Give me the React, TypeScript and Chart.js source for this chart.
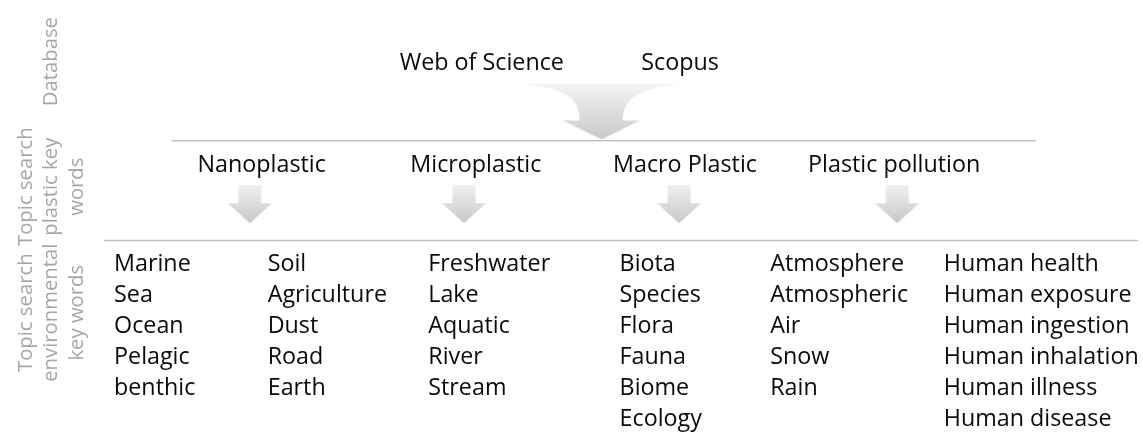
import React, { useEffect, useRef } from "react";
import { Chart, registerables } from "chart.js";

Chart.register(...registerables);

// ---------- content ----------
const databases = ["Web of Science", "Scopus"];
const plasticKeywords = ["Nanoplastic", "Microplastic", "Macro Plastic", "Plastic pollution"];
const envMarine = ["Marine", "Sea", "Ocean", "Pelagic", "benthic"];
const envSoil = ["Soil", "Agriculture", "Dust", "Road", "Earth"];
const envFreshwater = ["Freshwater", "Lake", "Aquatic", "River", "Stream"];
const envBiota = ["Biota", "Species", "Flora", "Fauna", "Biome", "Ecology"];
const envAtmosphere = ["Atmosphere", "Atmospheric", "Air", "Snow", "Rain"];
const envHuman = ["Human health", "Human exposure", "Human ingestion", "Human inhalation", "Human illness", "Human disease"];
const stageDatabase = ["Database"];
const stagePlastic = ["Topic search", "plastic key", "words"];
const stageEnv = ["Topic search", "environmental", "key words"];

// ---------- layout (scale units = pixels) ----------
const W = 1143;
const H = 432;
const dbX = [481, 681];
const dbY = 67;
const plasticX = [259, 475, 686, 897];
const plasticY = 171;
const smallArrowY = 204;
const smallArrowX = [247, 463, 680, 900];
const bigArrowPos = { x: 603, y: 110 };
const envColumns = [envMarine, envSoil, envFreshwater, envBiota, envAtmosphere, envHuman];
const envColX = [110, 265, 427, 620, 772, 947];
const envY0 = 272.5;
const envStep = 31.7;
const stageGroups = [stageDatabase, stagePlastic, stageEnv];
const stageCenterY = [58, 186, 315];
const stageColX1 = [47];
const stageColX3 = [21, 47, 73];
const dividerTop = [{ x: 168, y: 139 }, { x: 1040, y: 139 }];
const dividerBottom = [{ x: 100, y: 241 }, { x: 1143, y: 241 }];

const FONT = "'Open Sans', Carlito, Lato, sans-serif";
const BLACK = "#0a0a0a";
const GRAY = "#a6a6a6";

function makeSmallArrow(): HTMLCanvasElement {
  const c = document.createElement("canvas");
  c.width = 44;
  c.height = 38;
  const ctx = c.getContext("2d")!;
  const g = ctx.createLinearGradient(0, 0, 0, 38);
  g.addColorStop(0, "#f0f0f0");
  g.addColorStop(1, "#c8c8c8");
  ctx.fillStyle = g;
  ctx.beginPath();
  ctx.moveTo(10.5, 0);
  ctx.lineTo(33.5, 0);
  ctx.lineTo(33.5, 18);
  ctx.lineTo(44, 18);
  ctx.lineTo(22, 38);
  ctx.lineTo(0, 18);
  ctx.lineTo(10.5, 18);
  ctx.closePath();
  ctx.fill();
  return c;
}

function makeBigArrow(): HTMLCanvasElement {
  const c = document.createElement("canvas");
  c.width = 162;
  c.height = 56;
  const ctx = c.getContext("2d")!;
  const g = ctx.createLinearGradient(0, 0, 0, 56);
  g.addColorStop(0, "#f4f4f4");
  g.addColorStop(1, "#c8c8c8");
  ctx.fillStyle = g;
  ctx.beginPath();
  ctx.moveTo(2, 0);
  ctx.lineTo(160, 0);
  ctx.bezierCurveTo(110, 4, 101, 18, 101, 36);
  ctx.lineTo(118, 36);
  ctx.lineTo(80, 55);
  ctx.lineTo(41, 36);
  ctx.lineTo(58, 36);
  ctx.bezierCurveTo(58, 18, 50, 4, 2, 0);
  ctx.closePath();
  ctx.fill();
  return c;
}

const textPlugin = {
  id: "textLabels",
  afterDatasetsDraw(chart: any) {
    const ctx = chart.ctx;
    chart.data.datasets.forEach((ds: any, i: number) => {
      if (!ds.textStyle) return;
      const meta = chart.getDatasetMeta(i);
      const st = ds.textStyle;
      meta.data.forEach((el: any, j: number) => {
        const t = ds.data[j].t;
        ctx.save();
        ctx.font = st.font;
        ctx.fillStyle = st.color;
        ctx.textAlign = st.align;
        ctx.textBaseline = st.baseline;
        ctx.translate(el.x, el.y);
        if (st.rotate) ctx.rotate(st.rotate);
        ctx.fillText(t, 0, 0);
        ctx.restore();
      });
    });
  },
};

export default function App() {
  const ref = useRef<HTMLCanvasElement | null>(null);

  useEffect(() => {
    if (!ref.current) return;
    const smallArrow = makeSmallArrow();
    const bigArrow = makeBigArrow();

    const envPoints = envColumns.flatMap((col, ci) =>
      col.map((w, ri) => ({ x: envColX[ci], y: envY0 + ri * envStep, t: w }))
    );
    const stagePoints = stageGroups.flatMap((grp, gi) => {
      const xs = grp.length === 1 ? stageColX1 : stageColX3;
      return grp.map((w, li) => ({ x: xs[li], y: stageCenterY[gi], t: w }));
    });

    const hiddenPt = { pointRadius: 0, pointHoverRadius: 0, showLine: false };

    const chart = new Chart(ref.current, {
      type: "scatter",
      data: {
        datasets: [
          {
            data: dividerTop,
            showLine: true,
            borderColor: "#c4c4c4",
            borderWidth: 1.5,
            pointRadius: 0,
          } as any,
          {
            data: dividerBottom,
            showLine: true,
            borderColor: "#c4c4c4",
            borderWidth: 1.5,
            pointRadius: 0,
          } as any,
          {
            data: [bigArrowPos],
            pointStyle: bigArrow,
            pointRadius: 1,
            showLine: false,
          } as any,
          {
            data: smallArrowX.map((x) => ({ x, y: smallArrowY })),
            pointStyle: smallArrow,
            pointRadius: 1,
            showLine: false,
          } as any,
          {
            data: databases.map((t, i) => ({ x: dbX[i], y: dbY, t })),
            ...hiddenPt,
            textStyle: { font: `23.3px ${FONT}`, color: BLACK, align: "center", baseline: "alphabetic" },
          } as any,
          {
            data: plasticKeywords.map((t, i) => ({ x: plasticX[i], y: plasticY, t })),
            ...hiddenPt,
            textStyle: { font: `23.3px ${FONT}`, color: BLACK, align: "center", baseline: "alphabetic" },
          } as any,
          {
            data: envPoints,
            ...hiddenPt,
            textStyle: { font: `23.3px ${FONT}`, color: BLACK, align: "left", baseline: "alphabetic" },
          } as any,
          {
            data: stagePoints,
            ...hiddenPt,
            textStyle: { font: `20.3px ${FONT}`, color: GRAY, align: "center", baseline: "middle", rotate: -Math.PI / 2 },
          } as any,
        ],
      },
      options: {
        animation: false,
        responsive: false,
        devicePixelRatio: 1,
        events: [],
        layout: { padding: 0 },
        scales: {
          x: { type: "linear", min: 0, max: W, display: false },
          y: { type: "linear", min: 0, max: H, reverse: true, display: false },
        },
        plugins: {
          legend: { display: false },
          tooltip: { enabled: false },
        },
      },
      plugins: [textPlugin],
    });
    return () => chart.destroy();
  }, []);

  return (
    <div style={{ position: "fixed", left: 0, top: 0, width: W, height: H, background: "#fff", overflow: "hidden" }}>
      <canvas ref={ref} width={W} height={H} style={{ display: "block", width: W, height: H }} />
    </div>
  );
}
